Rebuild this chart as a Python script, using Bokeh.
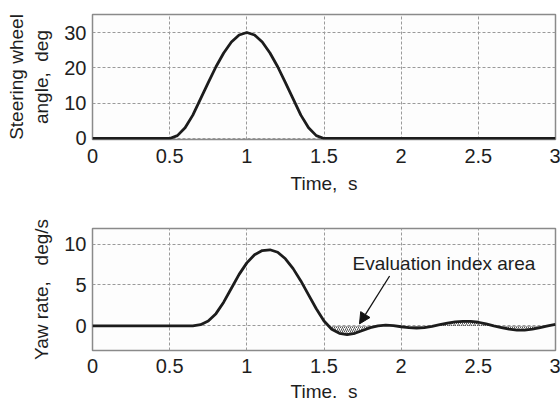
from bokeh.plotting import figure
from bokeh.layouts import column
from bokeh.models import Arrow, NormalHead, Label, FixedTicker
from bokeh.embed import file_html
from bokeh.resources import INLINE

# ---- data ----
x_ticks = [0, 0.5, 1, 1.5, 2, 2.5, 3]
x_tick_labels = ["0", "0.5", "1", "1.5", "2", "2.5", "3"]
steer_y_ticks = [0, 10, 20, 30]
yaw_y_ticks = [0, 5, 10]

steer_t = [0.0, 0.50, 0.55, 0.60, 0.65, 0.70, 0.75, 0.80, 0.85, 0.90, 0.95,
           1.00, 1.05, 1.10, 1.15, 1.20, 1.25, 1.30, 1.35, 1.40, 1.45, 1.50, 3.0]
steer_deg = [0.0, 0.0, 0.8, 3.0, 6.6, 11.2, 15.8, 20.3, 24.2, 27.3, 29.3,
             30.0, 29.3, 27.3, 24.2, 20.3, 15.8, 11.2, 6.6, 3.0, 0.8, 0.0, 0.0]

yaw_t = [0.0, 0.60, 0.65, 0.70, 0.75, 0.80, 0.85, 0.90, 0.95, 1.00, 1.05,
         1.10, 1.15, 1.20, 1.25, 1.30, 1.35, 1.40, 1.45, 1.50, 1.55, 1.60,
         1.65, 1.70, 1.75, 1.80, 1.85, 1.90, 1.95, 2.00, 2.05, 2.10, 2.15,
         2.20, 2.25, 2.30, 2.35, 2.40, 2.45, 2.50, 2.55, 2.60, 2.65, 2.70,
         2.75, 2.80, 2.85, 2.90, 2.95, 3.00]
yaw_rate = [0.0, 0.0, 0.0, 0.15, 0.6, 1.5, 2.9, 4.6, 6.3, 7.7, 8.7,
            9.2, 9.3, 9.0, 8.2, 7.0, 5.5, 3.8, 2.1, 0.6, -0.4, -0.9,
            -1.05, -0.9, -0.55, -0.2, 0.0, 0.1, 0.05, -0.1, -0.2, -0.25, -0.2,
            -0.05, 0.15, 0.35, 0.5, 0.55, 0.55, 0.45, 0.25, 0.0, -0.2, -0.4,
            -0.5, -0.5, -0.4, -0.2, 0.0, 0.2]
area_start_index = 20  # evaluation index area starts after the first zero crossing (~1.53 s)

annotation_text = "Evaluation index area"
annotation_text_pos = (1.685, 7.6)
arrow_start = (1.925, 6.1)
arrow_end = (1.73, 0.25)

NB = "\u00a0"
FONT = "Liberation Sans"
FS_TICK = "20px"
FS = "19px"
LINE_COLOR = "#1c1c1c"
TEXT_COLOR = "#1e1e1e"


def style(p, yticks):
    p.outline_line_color = "#8a8a8a"
    p.outline_line_width = 1.5
    p.background_fill_color = "#fdfdfd"
    p.border_fill_color = "white"
    for ax in (p.xaxis, p.yaxis):
        ax.axis_line_color = None
        ax.major_tick_in = 0
        ax.major_tick_out = 0
        ax.minor_tick_line_color = None
        ax.major_label_text_font = FONT
        ax.major_label_text_font_size = FS_TICK
        ax.major_label_text_color = TEXT_COLOR
        ax.axis_label_text_font = FONT
        ax.axis_label_text_font_size = FS
        ax.axis_label_text_font_style = "normal"
        ax.axis_label_text_color = TEXT_COLOR
    p.xaxis.ticker = FixedTicker(ticks=x_ticks)
    p.xaxis.major_label_overrides = {t: l for t, l in zip(x_ticks, x_tick_labels)}
    p.yaxis.ticker = FixedTicker(ticks=yticks)
    p.yaxis.major_label_standoff = 6
    p.yaxis.axis_label_standoff = 9
    for g in (p.xgrid, p.ygrid):
        g.grid_line_color = "#9a9a9a"
        g.grid_line_dash = "3 2"
        g.grid_line_width = 1


p1 = figure(width=560, height=200, x_range=(0, 3), y_range=(-0.3, 35.1),
            output_backend="svg", toolbar_location=None,
            min_border_left=92, min_border_right=5, min_border_top=14,
            min_border_bottom=61)
style(p1, steer_y_ticks)
p1.xaxis.major_label_standoff = 9
p1.xaxis.axis_label_standoff = 7
p1.xaxis.axis_label = "Time," + NB + NB + "s"
p1.yaxis.axis_label = "Steering wheel\nangle," + NB + NB + "deg"
p1.line(steer_t, steer_deg, line_color=LINE_COLOR, line_width=2.8)

p2 = figure(width=560, height=204, x_range=(0, 3), y_range=(-3.0, 11.9),
            output_backend="svg", toolbar_location=None,
            min_border_left=92, min_border_right=5, min_border_top=28,
            min_border_bottom=52)
style(p2, yaw_y_ticks)
p2.xaxis.major_label_standoff = 8
p2.xaxis.axis_label_standoff = 5
p2.xaxis.axis_label = "Time." + NB + NB + "s"
p2.yaxis.axis_label = "Yaw rate," + NB + NB + NB + "deg/s"

area_t = yaw_t[area_start_index:]
area_y = yaw_rate[area_start_index:]
p2.varea(x=area_t, y1=[0.0] * len(area_t), y2=area_y, fill_alpha=0,
         hatch_pattern="right_diagonal_line", hatch_color="#555555",
         hatch_scale=4, hatch_weight=1)
p2.line(yaw_t, yaw_rate, line_color=LINE_COLOR, line_width=2.8)

p2.add_layout(Label(x=annotation_text_pos[0], y=annotation_text_pos[1],
                    text=annotation_text, text_font=FONT, text_font_size=FS,
                    text_color=TEXT_COLOR, text_baseline="middle"))
p2.add_layout(Arrow(x_start=arrow_start[0], y_start=arrow_start[1],
                    x_end=arrow_end[0], y_end=arrow_end[1],
                    line_color="#111111", line_width=1.3,
                    end=NormalHead(size=11, fill_color="#111111",
                                   line_color="#111111")))

layout = column(p1, p2, spacing=0)
open("out.html", "w").write(file_html(layout, INLINE))
